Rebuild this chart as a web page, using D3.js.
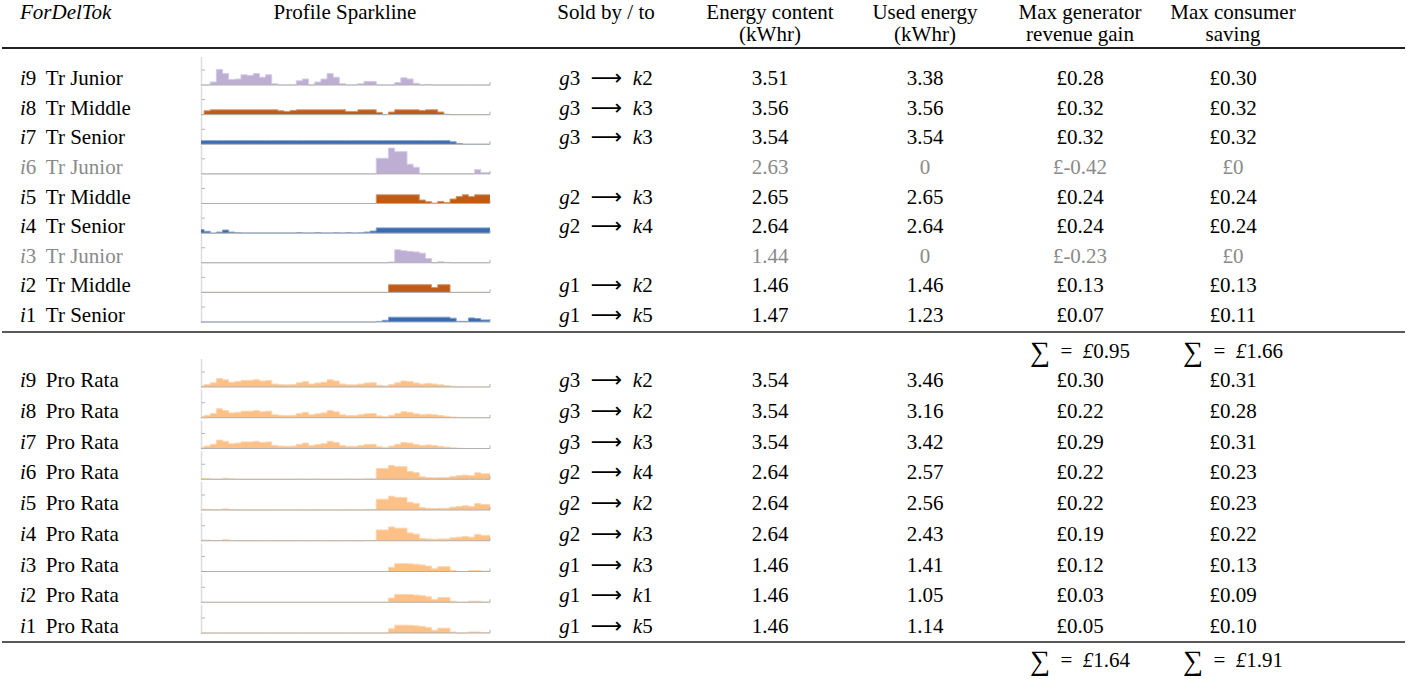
<!DOCTYPE html>
<html>
<head>
<meta charset="utf-8">
<script src="https://cdn.jsdelivr.net/npm/d3@7"></script>
<style>
  body { margin: 0; background: #fff; }
  text { font-family: "Liberation Serif", "Times New Roman", serif; font-size: 21px; }
</style>
</head>
<body>
<div id="table"></div>
<script>
"use strict";

// ---- data ----
var headers = [
    {lines: ["ForDelTok"], col: "label", italic: true},
    {lines: ["Profile Sparkline"], col: "spark"},
    {lines: ["Sold by / to"], col: "sold"},
    {lines: ["Energy content", "(kWhr)"], col: "energy"},
    {lines: ["Used energy", "(kWhr)"], col: "used"},
    {lines: ["Max generator", "revenue gain"], col: "gain"},
    {lines: ["Max consumer", "saving"], col: "save"}
];

var trIds = ["9", "8", "7", "6", "5", "4", "3", "2", "1"];
var trNames = ["Tr Junior", "Tr Middle", "Tr Senior", "Tr Junior", "Tr Middle", "Tr Senior", "Tr Junior", "Tr Middle", "Tr Senior"];
var trUnsold = [false, false, false, true, false, false, true, false, false];
var trGen = ["3", "3", "3", "", "2", "2", "", "1", "1"];
var trCon = ["2", "3", "3", "", "3", "4", "", "2", "5"];
var trEnergy = ["3.51", "3.56", "3.54", "2.63", "2.65", "2.64", "1.44", "1.46", "1.47"];
var trUsed = ["3.38", "3.56", "3.54", "0", "2.65", "2.64", "0", "1.46", "1.23"];
var trGain = ["0.28", "0.32", "0.32", "-0.42", "0.24", "0.24", "-0.23", "0.13", "0.07"];
var trSave = ["0.30", "0.32", "0.32", "0", "0.24", "0.24", "0", "0.13", "0.11"];
var trSums = ["0.95", "1.66"];

var proIds = ["9", "8", "7", "6", "5", "4", "3", "2", "1"];
var proGen = ["3", "3", "3", "2", "2", "2", "1", "1", "1"];
var proCon = ["2", "2", "3", "4", "2", "3", "3", "1", "5"];
var proEnergy = ["3.54", "3.54", "3.54", "2.64", "2.64", "2.64", "1.46", "1.46", "1.46"];
var proUsed = ["3.46", "3.16", "3.42", "2.57", "2.56", "2.43", "1.41", "1.05", "1.14"];
var proGain = ["0.30", "0.22", "0.29", "0.22", "0.22", "0.19", "0.12", "0.03", "0.05"];
var proSave = ["0.31", "0.28", "0.31", "0.23", "0.23", "0.22", "0.13", "0.09", "0.10"];
var proSums = ["1.64", "1.91"];

// half-hour energy profiles (kWh per slot), 48 slots each
var trProfiles = [
    [0,0,0.05,0.26,0.19,0.09,0.10,0.17,0.16,0.19, 0.13,0.17,0.02,0,0,0,0.07,0.10,0,0.05,
     0.10,0.19,0.13,0.02,0,0,0.02,0.06,0.06,0, 0,0,0.04,0.12,0.10,0.03,0,0.01,0,0, 0,0,0,0,0,0,0,0],
    [0,0.064,0.08,0.08,0.08,0.08,0.08,0.08,0.08,0.08, 0.08,0.08,0.08,0.064,0.053,0.07,0.08,0.08,0.08,0.08,
     0.08,0.08,0.08,0.08,0.053,0.053,0.08,0.08,0.08,0.037, 0,0.043,0.08,0.08,0.08,0.08,0.07,0.08,0.08,0.043,
     0.005,0,0,0,0,0,0,0],
    [0.06,0.06,0.06,0.06,0.06,0.06,0.06,0.06,0.06,0.06, 0.06,0.06,0.06,0.06,0.06,0.06,0.06,0.06,0.06,0.06,
     0.06,0.06,0.06,0.06,0.06,0.06,0.06,0.06,0.06,0.06, 0.06,0.06,0.06,0.06,0.06,0.06,0.06,0.06,0.06,0.06,
     0.06,0.04,0.012,0,0,0,0,0],
    [0,0,0,0,0,0,0,0,0,0, 0,0,0,0,0,0,0,0,0,0, 0,0,0,0,0,0,0,0,0,0.26,
     0.26,0.43,0.37,0.37,0.16,0.11,0,0,0,0, 0,0,0,0,0,0.07,0.02,0.02],
    [0,0,0,0,0,0,0,0,0,0, 0,0,0,0,0,0,0,0,0,0, 0,0,0,0,0,0,0,0,0,0.145,
     0.145,0.145,0.145,0.145,0.145,0.145,0.058,0.03,0.006,0.035, 0.017,0.075,0.116,0.145,0.116,0.145,0.145,0.145],
    [0.058,0.03,0,0.017,0.052,0.017,0.006,0.003,0.003,0.003, 0.003,0.003,0.003,0.003,0.003,0.003,0.01,0.003,0.003,0.01,
     0.003,0.003,0.006,0.003,0.01,0.003,0.006,0.017,0.035,0.087, 0.087,0.087,0.087,0.087,0.087,0.087,0.087,0.087,0.087,0.087,
     0.087,0.087,0.087,0.087,0.087,0.087,0.087,0.087],
    [0,0,0,0,0,0,0,0,0,0, 0,0,0,0,0,0,0,0,0,0, 0,0,0,0,0,0,0,0,0,0,
     0,0.012,0.216,0.2,0.19,0.18,0.16,0.072,0,0.018, 0.006,0,0,0,0,0,0,0],
    [0,0,0,0,0,0,0,0,0,0, 0,0,0,0,0,0,0,0,0,0, 0,0,0,0,0,0,0,0,0,0,
     0,0.128,0.128,0.128,0.128,0.128,0.128,0.128,0.08,0.128, 0.128,0,0,0,0,0,0,0],
    [0,0,0,0,0,0,0,0,0,0, 0,0,0,0,0,0,0,0,0,0, 0,0,0,0,0,0,0,0,0,0.01,
     0.028,0.08,0.08,0.08,0.08,0.08,0.08,0.08,0.08,0.08, 0.08,0.063,0.011,0.011,0.068,0.057,0.034,0.034]
];

var proProfiles = [
    [0.02,0.04,0.07,0.14,0.12,0.08,0.09,0.11,0.11,0.12, 0.10,0.11,0.05,0.04,0.036,0.04,0.07,0.09,0.05,0.066,
     0.08,0.12,0.10,0.05,0.036,0.036,0.05,0.066,0.07,0.03, 0.018,0.04,0.07,0.10,0.09,0.066,0.05,0.06,0.05,0.036,
     0.024,0.012,0.006,0,0,0,0,0],
    [0.02,0.04,0.07,0.15,0.12,0.08,0.09,0.11,0.11,0.12, 0.10,0.11,0.05,0.04,0.036,0.04,0.07,0.09,0.05,0.066,
     0.08,0.12,0.10,0.05,0.036,0.036,0.05,0.066,0.07,0.03, 0.018,0.04,0.07,0.10,0.09,0.066,0.05,0.06,0.05,0.036,
     0.024,0.012,0.006,0,0,0,0,0],
    [0.02,0.04,0.07,0.14,0.12,0.08,0.09,0.11,0.11,0.12, 0.10,0.11,0.05,0.04,0.036,0.04,0.07,0.09,0.05,0.066,
     0.08,0.12,0.10,0.05,0.036,0.036,0.05,0.066,0.07,0.03, 0.018,0.04,0.07,0.10,0.09,0.066,0.05,0.06,0.05,0.036,
     0.024,0.012,0.006,0,0,0,0,0],
    [0.012,0.012,0.003,0.003,0.018,0.006,0,0,0,0, 0,0,0,0,0,0,0.003,0,0,0.003, 0,0,0,0,0.003,0,0,0.006,0.006,0.18,
     0.18,0.23,0.21,0.21,0.13,0.11,0.04,0.03,0.024,0.03, 0.03,0.048,0.06,0.07,0.06,0.107,0.09,0.09],
    [0.012,0.012,0.003,0.003,0.018,0.006,0,0,0,0, 0,0,0,0,0,0,0.003,0,0,0.003, 0,0,0,0,0.003,0,0,0.006,0.006,0.18,
     0.18,0.23,0.21,0.21,0.13,0.11,0.04,0.03,0.024,0.03, 0.03,0.048,0.06,0.07,0.06,0.107,0.09,0.09],
    [0.012,0.012,0.003,0.003,0.018,0.006,0,0,0,0, 0,0,0,0,0,0,0.003,0,0,0.003, 0,0,0,0,0.003,0,0,0.006,0.006,0.18,
     0.18,0.23,0.21,0.21,0.13,0.11,0.04,0.03,0.024,0.03, 0.03,0.048,0.06,0.07,0.06,0.107,0.09,0.09],
    [0,0,0,0,0,0,0,0,0,0, 0,0,0,0,0,0,0,0,0,0, 0,0,0,0,0,0,0,0,0,0,
     0,0.07,0.13,0.13,0.128,0.12,0.11,0.09,0.045,0.08, 0.08,0.017,0,0,0.017,0.017,0.006,0.006],
    [0,0,0,0,0,0,0,0,0,0, 0,0,0,0,0,0,0,0,0,0, 0,0,0,0,0,0,0,0,0,0,
     0,0.07,0.13,0.13,0.128,0.12,0.11,0.09,0.045,0.08, 0.08,0.017,0,0,0.017,0.017,0.006,0.006],
    [0,0,0,0,0,0,0,0,0,0, 0,0,0,0,0,0,0,0,0,0, 0,0,0,0,0,0,0,0,0,0,
     0,0.07,0.13,0.13,0.128,0.12,0.11,0.09,0.045,0.08, 0.08,0.017,0,0,0.017,0.017,0.006,0.006]
];

var typeColor = {"Tr Junior": "#beaed4", "Tr Middle": "#bf5b17", "Tr Senior": "#386cb0", "Pro Rata": "#fdc086"};

// ---- layout ----
var w = 1411;
var h = 679;
var colX = {label: 20, spark: 345, sold: 606, energy: 770, used: 925, gain: 1080, save: 1233};
var greyText = "#8a8a8a";

var svg = d3.select("#table")
    .append("svg")
    .attr("width", w)
    .attr("height", h);

var slotX = d3.scaleLinear().domain([0, 47]).range([201, 490]);
var trY = d3.scaleLinear().domain([0, 8]).range([85, 322]);
var proY = d3.scaleLinear().domain([0, 8]).range([387, 633]);

// header
headers.forEach(function(hd) {
    var t = svg.append("text")
        .attr("x", colX[hd.col])
        .attr("y", 19)
        .attr("text-anchor", hd.col == "label" ? "start" : "middle")
        .style("font-style", hd.italic ? "italic" : "normal");
    hd.lines.forEach(function(l, i) {
        t.append("tspan")
            .attr("x", colX[hd.col])
            .attr("dy", i == 0 ? 0 : 22)
            .text(l);
    });
});

function rule(y, width) {
    svg.append("line")
        .attr("x1", 2).attr("x2", 1405)
        .attr("y1", y).attr("y2", y)
        .attr("stroke", "#222")
        .attr("stroke-width", width);
}
rule(48, 2);
rule(332, 1.3);
rule(642, 1.3);

function sparkline(values, base, color) {
    var y = d3.scaleLinear().domain([0, 0.45]).range([base, base - 27]);
    var g = svg.append("g").attr("class", "spark");

    g.append("line")
        .attr("x1", 201.5).attr("x2", 201.5)
        .attr("y1", y(0.45) - 1).attr("y2", base + 1)
        .attr("stroke", "#dcdcdc").attr("stroke-width", 1.5);
    g.append("line")
        .attr("x1", 201.5).attr("x2", 205)
        .attr("y1", y(0.25)).attr("y2", y(0.25))
        .attr("stroke", "#b5b5b5").attr("stroke-width", 1);

    var area = d3.area()
        .curve(d3.curveStep)
        .x(function(d, i) { return slotX(i); })
        .y0(y(0))
        .y1(function(d) { return y(d); });
    var line = d3.line()
        .curve(d3.curveStep)
        .x(function(d, i) { return slotX(i); })
        .y(function(d) { return y(d); });

    g.append("path")
        .attr("d", area(values))
        .attr("fill", color);
    g.append("path")
        .attr("d", line(values))
        .attr("fill", "none")
        .attr("stroke", d3.interpolateRgb(color, "#fff")(0.35))
        .attr("stroke-width", 1);

    g.append("line")
        .attr("x1", slotX(0)).attr("x2", slotX(47))
        .attr("y1", base).attr("y2", base)
        .attr("stroke", "#b0b0b0").attr("stroke-width", 1);
    g.append("line")
        .attr("x1", slotX(47)).attr("x2", slotX(47))
        .attr("y1", base).attr("y2", base - 3)
        .attr("stroke", "#b0b0b0").attr("stroke-width", 1);
}

function rowText(base, id, name, gen, con, energy, used, gain, save, grey) {
    var fill = grey ? greyText : "#000";
    var lab = svg.append("text").attr("x", colX.label).attr("y", base).attr("fill", fill);
    lab.append("tspan").style("font-style", "italic").text("i");
    lab.append("tspan").text(id + " \u2009" + name);

    if (gen) {
        var s = svg.append("text").attr("x", colX.sold).attr("y", base)
            .attr("text-anchor", "middle").attr("fill", fill);
        s.append("tspan").style("font-style", "italic").text("g");
        s.append("tspan").text(gen + "\u2002");
        s.append("tspan").style("font-family", "DejaVu Sans").style("font-size", "22px").text("\u27F6");
        s.append("tspan").style("font-style", "italic").text("\u2002k");
        s.append("tspan").text(con);
    }

    [["energy", energy], ["used", used], ["gain", "\u00A3" + gain], ["save", "\u00A3" + save]].forEach(function(c) {
        svg.append("text")
            .attr("x", colX[c[0]]).attr("y", base)
            .attr("text-anchor", "middle")
            .attr("fill", fill)
            .text(c[1]);
    });
}

function sumText(x, base, v) {
    var t = svg.append("text").attr("x", x).attr("y", base).attr("text-anchor", "middle");
    t.append("tspan").style("font-size", "28px").attr("dy", 3).text("\u2211");
    t.append("tspan").attr("dy", -3).text("\u2002=\u2002");
    t.append("tspan").style("font-style", "italic").text("\u00A3");
    t.append("tspan").text(v);
}

trIds.forEach(function(id, i) {
    var base = trY(i);
    sparkline(trProfiles[i], base, typeColor[trNames[i]]);
    rowText(base, id, trNames[i], trGen[i], trCon[i], trEnergy[i], trUsed[i], trGain[i], trSave[i], trUnsold[i]);
});
sumText(colX.gain, 358, trSums[0]);
sumText(colX.save, 358, trSums[1]);

proIds.forEach(function(id, i) {
    var base = proY(i);
    sparkline(proProfiles[i], base, typeColor["Pro Rata"]);
    rowText(base, id, "Pro Rata", proGen[i], proCon[i], proEnergy[i], proUsed[i], proGain[i], proSave[i], false);
});
sumText(colX.gain, 667, proSums[0]);
sumText(colX.save, 667, proSums[1]);
</script>
</body>
</html>
